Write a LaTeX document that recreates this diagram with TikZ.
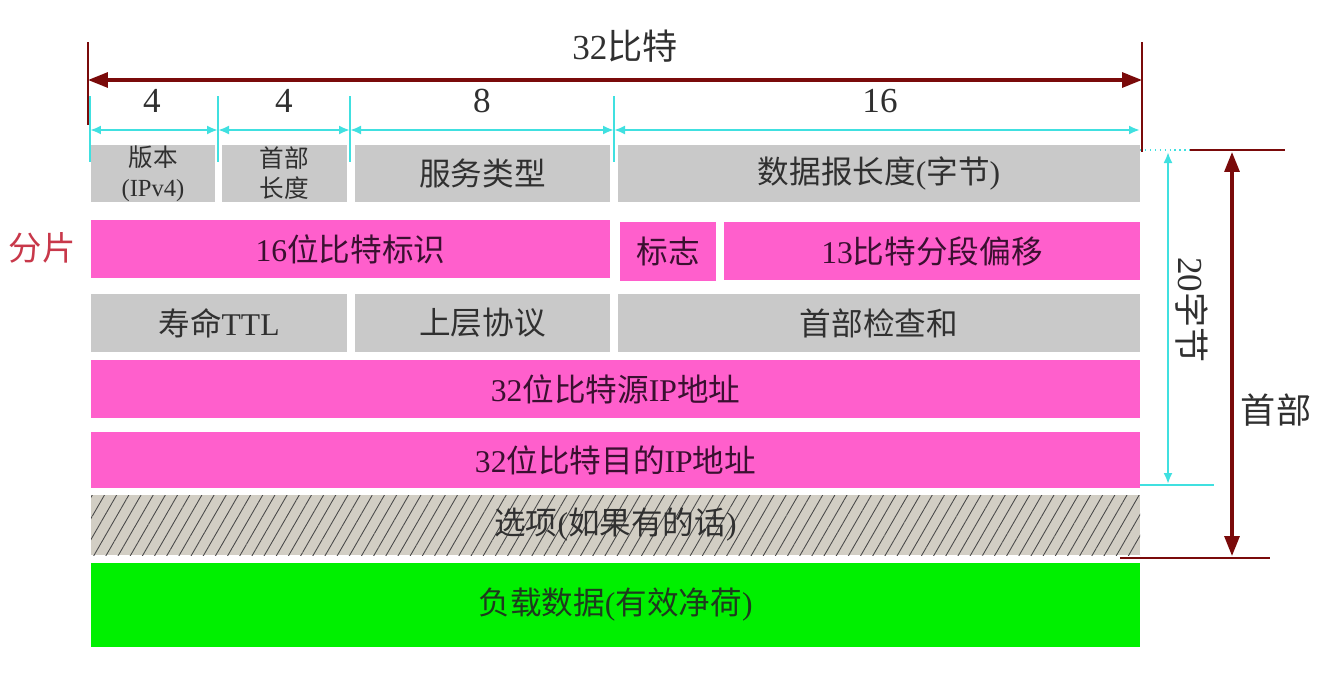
\documentclass[tikz,border=0pt]{standalone}
\usepackage{fontspec}
\setmainfont{Liberation Serif}
\newfontfamily\zhfont{Noto Sans CJK SC}
\newcommand{\zh}[1]{{\zhfont #1}}
\usetikzlibrary{arrows.meta,fit,patterns.meta}
\definecolor{fieldgray}{HTML}{C9C9C9}
\definecolor{fieldpink}{HTML}{FF5FCC}
\definecolor{fieldgreen}{HTML}{00F000}
\definecolor{hatchbg}{HTML}{D2CEC4}
\definecolor{hatchline}{HTML}{4A4A4A}
\definecolor{dimred}{HTML}{7A0A0A}
\definecolor{dimcyan}{HTML}{40E0E0}
\definecolor{fragred}{HTML}{C8384A}
\definecolor{inkgray}{HTML}{303030}
\definecolor{inkpink}{HTML}{3A1030}
\definecolor{inkgreen}{HTML}{1E3A1E}

\begin{document}
\begin{tikzpicture}[
x=0.02cm,y=-0.02cm,
field/.style={inner sep=0pt},
gfield/.style={field,fill=fieldgray},
pfield/.style={field,fill=fieldpink},
hatchfield/.style={field,fill=hatchbg,postaction={pattern={Lines[angle=60,distance=6pt,line width=0.5pt]},pattern color=hatchline}},
gtext/.style={align=center,font=\fontsize{18}{20}\selectfont,text=inkgray},
ptext/.style={gtext,text=inkpink},
smalltext/.style={gtext,font=\fontsize{14}{17}\selectfont},
reddim/.style={draw=dimred,line width=1.8pt},
cyandim/.style={draw=dimcyan,line width=1.2pt},
redarr/.style={reddim,{Triangle[length=4mm,width=3mm]}-{Triangle[length=4mm,width=3mm]}},
cyanarr/.style={cyandim,{Latex[length=2.2mm,width=1.8mm]}-{Latex[length=2.2mm,width=1.8mm]}},
lbl/.style={font=\fontsize{20}{22}\selectfont,text=inkgray}
]
\useasboundingbox (0,0) rectangle (1324,676);

% bit widths on top
\coordinate (topL) at (88,80);
\coordinate (topR) at (1142,80);
\draw[reddim,line width=1.4pt] (88,42) -- (88,125);
\draw[reddim,line width=1.4pt] (1142,42) -- (1142,152);
\draw[redarr] (topL) -- (topR);
\node[lbl] (total) at (625,46) {32\zh{比特}};

\foreach \x/\nm in {90/t0,218/t1,350/t2,614/t3,1140/t4}
  \coordinate (\nm) at (\x,130);
\foreach \x in {90,218,350,614}
  \draw[cyandim] (\x,96) -- (\x,162);
\draw[cyanarr] (t0) -- (t1);
\draw[cyanarr] (t1) -- (t2);
\draw[cyanarr] (t2) -- (t3);
\draw[cyanarr] (t3) -- (t4);
\node[lbl] (w1) at (152,101) {4};
\node[lbl] (w2) at (284,101) {4};
\node[lbl] (w3) at (482,101) {8};
\node[lbl] (w4) at (880,101) {16};

% header fields
\node[gfield,fit={(91,145) (215,202)},label={[smalltext]center:\zh{版本}\\(IPv4)}] (ver) {};
\node[gfield,fit={(222,145) (347,202)},label={[smalltext]center:\zh{首部}\\\zh{长度}}] (hlen) {};
\node[gfield,fit={(355,145) (610,202)},label={[gtext]center:\zh{服务类型}}] (tos) {};
\node[gfield,fit={(618,145) (1140,202)},label={[gtext]center:\zh{数据报长度}(\zh{字节})}] (totlen) {};

\node[pfield,fit={(91,220) (610,278)},label={[ptext]center:16\zh{位比特标识}}] (ident) {};
\node[pfield,fit={(620,222) (716,281)},label={[ptext]center:\zh{标志}}] (flags) {};
\node[pfield,fit={(724,222) (1140,280)},label={[ptext]center:13\zh{比特分段偏移}}] (fragoff) {};
\node[font=\fontsize{19}{21}\selectfont,text=fragred] (frag) at (42,248) {\zh{分片}};

\node[gfield,fit={(91,294) (347,352)},label={[gtext]center:\zh{寿命}TTL}] (ttl) {};
\node[gfield,fit={(355,294) (610,352)},label={[gtext]center:\zh{上层协议}}] (proto) {};
\node[gfield,fit={(618,294) (1140,352)},label={[gtext]center:\zh{首部检查和}}] (cksum) {};

\node[pfield,fit={(91,360) (1140,418)},label={[ptext]center:32\zh{位比特源}IP\zh{地址}}] (srcip) {};
\node[pfield,fit={(91,432) (1140,488)},label={[ptext]center:32\zh{位比特目的}IP\zh{地址}}] (dstip) {};
\node[hatchfield,fit={(91,495) (1140,555)},label={[gtext]center:\zh{选项}(\zh{如果有的话})}] (opts) {};
\node[field,fill=fieldgreen,fit={(91,563) (1140,647)},label={[gtext,text=inkgreen]center:\zh{负载数据}(\zh{有效净荷})}] (payload) {};

% header length on the right
\coordinate (c20t) at (1168,152);
\coordinate (c20b) at (1168,484);
\draw[cyandim,line width=0.8pt,dotted] (1140,150) -- (1190,150);
\draw[cyandim] (1140,485) -- (1214,485);
\draw[cyanarr] (c20t) -- (c20b);
\node[lbl,rotate=-90] (len20) at (1192,310) {20\zh{字节}};

\coordinate (hdt) at (1232,152);
\coordinate (hdb) at (1232,556);
\draw[reddim,line width=1.6pt] (1190,150) -- (1285,150);
\draw[reddim,line width=1.6pt] (1120,558) -- (1270,558);
\draw[redarr] (hdt) -- (hdb);
\node[lbl] (hdr) at (1276,410) {\zh{首部}};
\end{tikzpicture}
\end{document}
